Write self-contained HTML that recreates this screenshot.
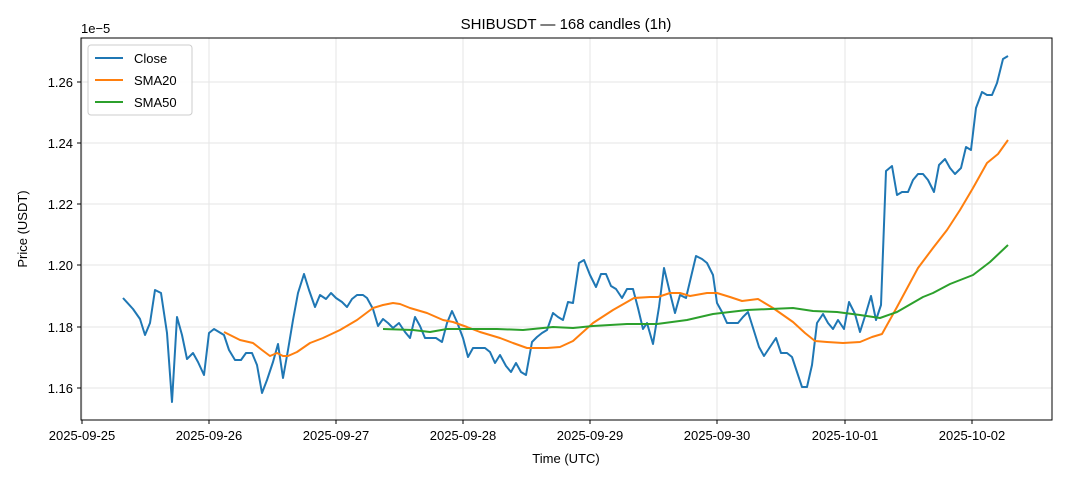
<!DOCTYPE html>
<html><head><meta charset="utf-8"><style>body{margin:0;background:#fff}svg{display:block;font-family:"Liberation Sans","DejaVu Sans",sans-serif}</style></head><body>
<svg width="1068" height="481" viewBox="0 0 1068 481">
<rect width="1068" height="481" fill="#fff"/>
<g stroke="#e6e6e6" stroke-width="1">
<line x1="82" y1="38" x2="82" y2="420"/><line x1="209" y1="38" x2="209" y2="420"/><line x1="336" y1="38" x2="336" y2="420"/><line x1="463" y1="38" x2="463" y2="420"/><line x1="590" y1="38" x2="590" y2="420"/><line x1="717" y1="38" x2="717" y2="420"/><line x1="845" y1="38" x2="845" y2="420"/><line x1="972" y1="38" x2="972" y2="420"/>
<line x1="81" y1="388" x2="1052" y2="388"/><line x1="81" y1="327" x2="1052" y2="327"/><line x1="81" y1="265" x2="1052" y2="265"/><line x1="81" y1="204" x2="1052" y2="204"/><line x1="81" y1="143" x2="1052" y2="143"/><line x1="81" y1="82" x2="1052" y2="82"/>
</g>
<g fill="none" stroke-width="2" stroke-linejoin="round">
<polyline stroke="#1f77b4" points="123,298 133,309 140,319 145,335 150,323 155,290 161,293 167,333 172,402 177,317 182,335 187,359 193,353 198,362 204,375 209,333 214,329 219,332 224,335 229,350 235,360 241,360 246,353 252,353 257,365 262,393 267,380 273,362 278,344 283,378 288,350 293,320 298,293 304,274 309,290 315,307 320,295 326,299 331,293 336,298 342,302 347,307 352,299 357,295 363,295 367,298 373,309 378,326 383,319 388,323 393,328 399,323 405,332 410,338 415,317 420,326 425,338 430,338 436,338 442,342 447,323 452,311 457,322 463,338 468,357 473,348 479,348 485,348 490,352 495,363 500,355 506,366 511,372 516,363 521,372 526,375 532,342 537,337 542,333 547,330 553,313 558,317 563,320 568,302 573,303 579,263 584,260 590,275 596,287 601,274 606,274 611,286 616,289 622,298 627,289 633,289 638,308 643,329 647,323 653,344 659,307 664,268 670,293 675,313 680,295 686,298 691,277 696,256 702,259 707,263 713,275 717,303 722,312 727,323 733,323 738,323 743,317 748,312 754,331 759,347 764,356 770,347 776,338 781,353 787,353 792,357 797,372 802,387 807,387 812,365 817,323 823,314 828,323 833,329 838,320 844,329 849,302 855,314 860,332 866,313 871,296 876,320 881,305 886,171 892,166 897,195 902,192 908,192 913,180 918,174 923,174 928,180 934,192 939,165 945,159 950,168 955,174 961,168 966,147 971,150 976,108 982,92 987,95 992,95 997,83 1003,59 1008,56"/>
<polyline stroke="#ff7f0e" points="224,332 240,340 253,343 262,350 270,356 277,353 283,356 288,356 297,352 310,343 323,338 340,330 357,320 373,308 383,305 393,303 400,304 410,308 427,313 443,320 453,322 467,327 480,332 500,338 513,343 527,348 547,348 560,347 573,341 593,323 613,310 634,298 650,297 658,297 670,293 680,293 690,296 707,293 717,293 730,297 742,301 758,299 773,308 793,322 805,333 815,341 827,342 843,343 860,342 872,337 882,334 897,307 918,268 933,248 947,230 960,210 973,188 987,163 998,154 1008,140"/>
<polyline stroke="#2ca02c" points="383,329 413,330 430,332 447,329 463,329 497,329 523,330 553,327 573,328 593,326 627,324 657,324 687,320 713,314 747,310 793,308 813,311 837,312 860,315 880,318 897,312 923,297 933,293 950,284 973,275 990,262 1008,245"/>
</g>
<rect x="81" y="38" width="971" height="382" fill="none" stroke="#000" stroke-width="1"/>
<g stroke="#000"><line x1="82" y1="420" x2="82" y2="424"/><line x1="209" y1="420" x2="209" y2="424"/><line x1="336" y1="420" x2="336" y2="424"/><line x1="463" y1="420" x2="463" y2="424"/><line x1="590" y1="420" x2="590" y2="424"/><line x1="717" y1="420" x2="717" y2="424"/><line x1="845" y1="420" x2="845" y2="424"/><line x1="972" y1="420" x2="972" y2="424"/>
<line x1="77" y1="388" x2="81" y2="388"/><line x1="77" y1="327" x2="81" y2="327"/><line x1="77" y1="265" x2="81" y2="265"/><line x1="77" y1="204" x2="81" y2="204"/><line x1="77" y1="143" x2="81" y2="143"/><line x1="77" y1="82" x2="81" y2="82"/></g>
<g font-size="13" fill="#000" text-anchor="middle">
<text x="82" y="440">2025-09-25</text><text x="209" y="440">2025-09-26</text><text x="336" y="440">2025-09-27</text><text x="463" y="440">2025-09-28</text><text x="590" y="440">2025-09-29</text><text x="717" y="440">2025-09-30</text><text x="845" y="440">2025-10-01</text><text x="972" y="440">2025-10-02</text>
<text x="566" y="463">Time (UTC)</text>
<text x="566" y="29" font-size="15">SHIBUSDT — 168 candles (1h)</text>
<text transform="translate(27,229) rotate(-90)">Price (USDT)</text>
</g>
<g font-size="13" fill="#000" text-anchor="end">
<text x="73" y="393">1.16</text><text x="73" y="332">1.18</text><text x="73" y="270">1.20</text><text x="73" y="209">1.22</text><text x="73" y="148">1.24</text><text x="73" y="87">1.26</text>
</g>
<text x="81" y="33" font-size="13">1e−5</text>
<rect x="88" y="45" width="104" height="70" rx="3" fill="#fff" fill-opacity="0.85" stroke="#ccc"/>
<g stroke-width="2"><line x1="95" y1="58" x2="123" y2="58" stroke="#1f77b4"/><line x1="95" y1="80" x2="123" y2="80" stroke="#ff7f0e"/><line x1="95" y1="102" x2="123" y2="102" stroke="#2ca02c"/></g>
<g font-size="13"><text x="134" y="63">Close</text><text x="134" y="85">SMA20</text><text x="134" y="107">SMA50</text></g>
</svg></body></html>
